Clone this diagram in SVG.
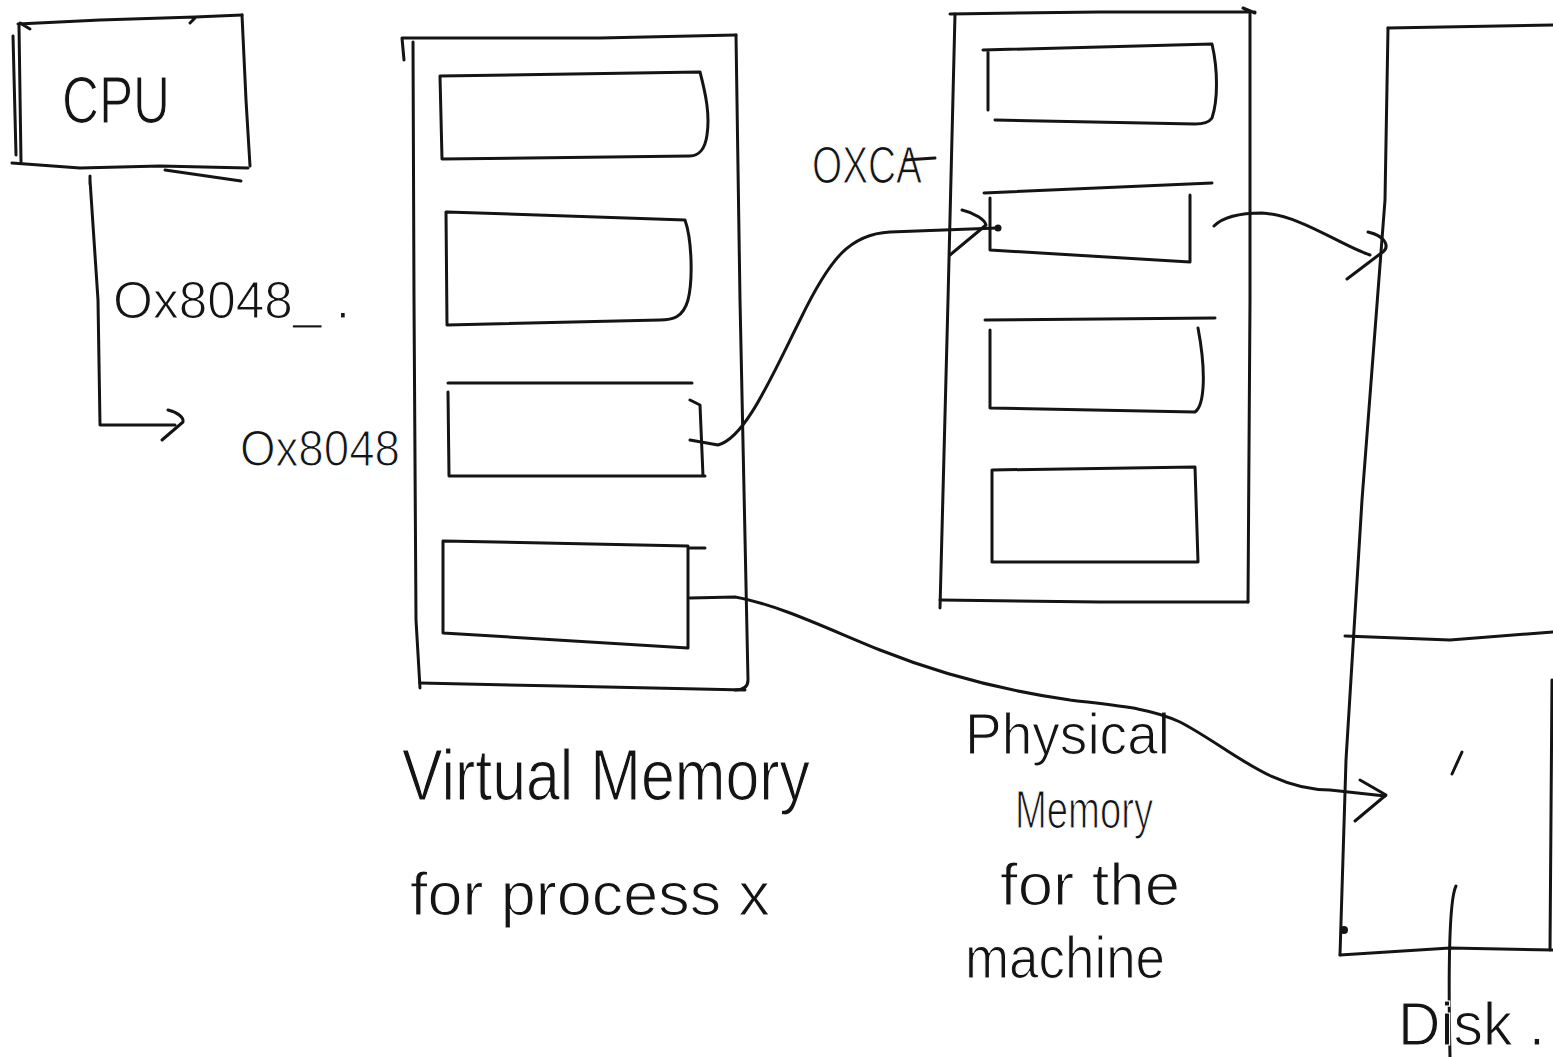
<svg xmlns="http://www.w3.org/2000/svg" width="1553" height="1057" viewBox="0 0 1553 1057">
  <style>
    .ink { fill: none; stroke: #141414; stroke-width: 3; stroke-linecap: round; stroke-linejoin: round; }
    .hand { font-family: "Liberation Sans", "DejaVu Sans", sans-serif; fill: #141414; stroke: #ffffff; stroke-width: 1.2; }
  </style>
  <rect width="1553" height="1057" fill="#ffffff"/>

  <!-- CPU -->
  <g id="cpu">
    <path class="ink" d="M18,24 L100,20 L195,17 L242,15 M30,29 L20,23 M190,23 L196,17"/>
    <path class="ink" d="M13,36 L16,155 M19,26 L21,162"/>
    <path class="ink" d="M242,15 L246,100 L250,166"/>
    <path class="ink" d="M12,163 L80,168 L160,166 L248,168 M165,170 L241,181"/>
    <text class="hand" x="62" y="123" font-size="66" textLength="108" lengthAdjust="spacingAndGlyphs">CPU</text>
  </g>

  <!-- Virtual memory of process x -->
  <g id="virtual-memory">
    <path class="ink" d="M402,38 L600,38 L736,35 M402,38 L404,60"/>
    <path class="ink" d="M413,42 L414,300 L416,620 L420,688"/>
    <path class="ink" d="M736,35 L740,300 L748,680 C748,688 742,690 735,690"/>
    <path class="ink" d="M420,683 L560,686 L745,690"/>
    <!-- pages -->
    <path class="ink" d="M440,76 L700,72 C706,95 710,115 707,135 C705,150 698,156 690,156 L442,159 L440,76"/>
    <path class="ink" d="M447,212 L685,220 C692,240 693,280 688,300 C683,318 672,320 660,320 L447,325 L446,212"/>
    <path class="ink" d="M448,383 L692,383 M448,392 L449,476 L705,476 M690,400 L700,405 L703,476"/>
    <path class="ink" d="M443,541 L688,546 L688,648 L443,633 L443,541 M690,548 L705,548"/>
    <text class="hand" x="402" y="800" font-size="72" textLength="408" lengthAdjust="spacingAndGlyphs">Virtual Memory</text>
    <text class="hand" x="410" y="915" font-size="62" textLength="360" lengthAdjust="spacingAndGlyphs">for process x</text>
  </g>

  <!-- Physical memory of the machine -->
  <g id="physical-memory">
    <path class="ink" d="M950,14 L1100,12 L1255,12 M1243,8 L1255,13"/>
    <path class="ink" d="M955,14 L948,300 L940,608"/>
    <path class="ink" d="M1250,14 L1250,300 L1248,602"/>
    <path class="ink" d="M940,600 L1100,602 L1248,602"/>
    <!-- frames -->
    <path class="ink" d="M983,50 L1212,44 C1218,70 1218,100 1212,118 C1208,124 1200,124 1195,124 L995,120 M988,52 L988,110"/>
    <path class="ink" d="M984,193 L1212,183 M990,198 L990,250 L1190,262 L1190,195"/>
    <path class="ink" d="M985,320 L1215,318 M990,330 L990,408 L1195,412 C1205,405 1206,370 1198,328"/>
    <path class="ink" d="M992,470 L1195,467 L1198,562 L992,562 L992,470"/>
    <text class="hand" x="812" y="183" font-size="52" textLength="110" lengthAdjust="spacingAndGlyphs">OXCA</text>
    <path class="ink" d="M905,160 L935,158"/>
    <text class="hand" x="965" y="754" font-size="58" textLength="205" lengthAdjust="spacingAndGlyphs">Physical</text>
    <text class="hand" x="1015" y="828" font-size="54" textLength="138" lengthAdjust="spacingAndGlyphs">Memory</text>
    <text class="hand" x="1000" y="905" font-size="60" textLength="180" lengthAdjust="spacingAndGlyphs">for the</text>
    <text class="hand" x="965" y="978" font-size="60" textLength="200" lengthAdjust="spacingAndGlyphs">machine</text>
  </g>

  <!-- Disk -->
  <g id="disk">
    <path class="ink" d="M1388,28 L1553,25"/>
    <path class="ink" d="M1388,28 L1385,200 L1362,500 L1346,760 L1340,955"/>
    <path class="ink" d="M1345,636 L1450,640 L1553,632"/>
    <path class="ink" d="M1340,955 L1450,948 L1553,950"/>
    <path class="ink" d="M1552,680 L1550,950"/>
    <path class="ink" d="M1452,774 L1462,752" stroke-width="2"/>
    <path class="ink" d="M1456,886 C1449,900 1448,960 1450,1057"/>
    <circle cx="1344" cy="930" r="4" fill="#141414"/>
    <text class="hand" x="1398" y="1045" font-size="62" textLength="147" lengthAdjust="spacingAndGlyphs">Disk .</text>
  </g>

  <!-- Address translations and paging -->
  <g id="connectors">
    <!-- CPU issues virtual address -->
    <path class="ink" d="M90,184 L90,176 M90,180 L98,300 L100,425 L175,425"/>
    <path class="ink" d="M168,410 C178,412 184,418 183,422 L162,440"/>
    <text class="hand" x="113" y="318" font-size="52" textLength="237" lengthAdjust="spacingAndGlyphs">Ox8048_ .</text>
    <text class="hand" x="240" y="466" font-size="50" textLength="160" lengthAdjust="spacingAndGlyphs">Ox8048</text>
    <!-- virtual page to physical frame -->
    <path class="ink" d="M690,440 L718,445 C745,438 770,380 800,320 C830,258 850,234 890,232 L997,228"/>
    <circle cx="998" cy="228" r="3.5" fill="#141414"/>
    <path class="ink" d="M962,210 C975,213 985,220 986,225 L950,255"/>
    <!-- physical frame paged out to disk -->
    <path class="ink" d="M1214,226 C1225,215 1245,213 1262,213 C1300,215 1340,245 1370,255"/>
    <path class="ink" d="M1368,232 C1385,236 1392,247 1380,254 L1347,279"/>
    <!-- virtual page stored on disk -->
    <path class="ink" d="M690,598 L735,597 C780,605 830,630 880,650 C940,674 1000,690 1070,700 C1120,706 1150,708 1180,722 C1230,748 1270,790 1330,790 L1385,796"/>
    <path class="ink" d="M1360,780 L1386,795 L1355,821"/>
  </g>
</svg>
